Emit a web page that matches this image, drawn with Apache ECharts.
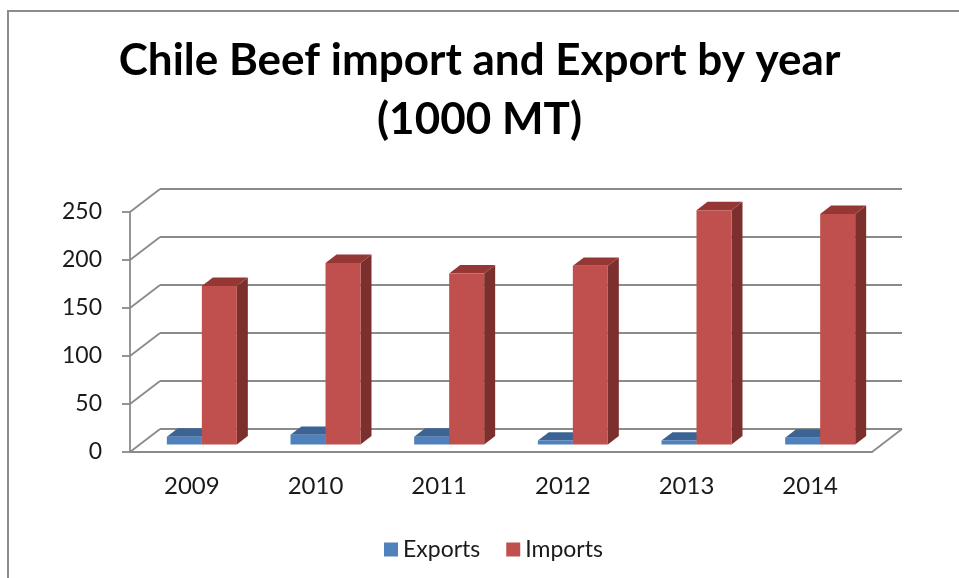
<!DOCTYPE html>
<html>
<head>
<meta charset="utf-8">
<script src="https://cdn.jsdelivr.net/npm/echarts@6/dist/echarts.min.js"></script>
<style>
  html, body { margin: 0; padding: 0; background: #fff; }
  #chart { width: 959px; height: 578px; }
</style>
</head>
<body>
<div id="chart"></div>
<script>
// Chile beef trade, thousand metric tons
const years = ['2009', '2010', '2011', '2012', '2013', '2014'];
const exportsData = [8, 10, 8, 4, 4, 7];
const importsData = [165, 189, 178, 186, 244, 240];
const valueTicks = [0, 50, 100, 150, 200, 250];

// Pseudo-3D projection: back wall offset and bar placement in depth
const WALL_DX = 30, WALL_DY = 23;
const BAR_DX0 = 10, BAR_DY0 = 7.6;   // front face of bars, inside the floor
const BAR_DX = 11, BAR_DY = 8.4;     // bar depth
const BAR_FRAC = 0.283;              // single bar width as share of a category band

const GRID_COLOR = '#8a8a8a';
const FONT = 'Lato, "Open Sans", sans-serif';

function line(x1, y1, x2, y2) {
  return {
    type: 'line',
    shape: { x1: x1, y1: y1, x2: x2, y2: y2 },
    style: { stroke: GRID_COLOR, lineWidth: 1.8 },
    silent: true
  };
}

function renderWalls(params, api) {
  const cs = params.coordSys;
  const left = cs.x, right = cs.x + cs.width;
  const children = [];
  valueTicks.forEach(function (v) {
    const y = api.coord([0, v])[1];
    children.push(line(left, y, left + WALL_DX, y - WALL_DY));
    children.push(line(left + WALL_DX, y - WALL_DY, right + WALL_DX, y - WALL_DY));
  });
  const y0 = api.coord([0, 0])[1];
  children.push(line(right, y0, right + WALL_DX, y0 - WALL_DY));
  return { type: 'group', children: children };
}

function makeBarRenderer(side, colors) {
  return function (params, api) {
    const idx = api.value(0);
    const top = api.coord([idx, api.value(1)]);
    const base = api.coord([idx, 0]);
    const bw = api.size([1, 0])[0] * BAR_FRAC;
    const cx = top[0] + BAR_DX0;
    const x0 = side < 0 ? cx - bw : cx;
    const x1 = side < 0 ? cx : cx + bw;
    const yT = top[1] - BAR_DY0;
    const yB = base[1] - BAR_DY0;
    return {
      type: 'group',
      children: [
        {
          type: 'polygon',
          shape: { points: [[x1, yT], [x1 + BAR_DX, yT - BAR_DY], [x1 + BAR_DX, yB - BAR_DY], [x1, yB]] },
          style: { fill: colors.side }
        },
        {
          type: 'polygon',
          shape: { points: [[x0, yT], [x0 + BAR_DX, yT - BAR_DY], [x1 + BAR_DX, yT - BAR_DY], [x1, yT]] },
          style: { fill: colors.top }
        },
        {
          type: 'rect',
          shape: { x: x0, y: yT, width: x1 - x0, height: yB - yT },
          style: { fill: colors.front }
        }
      ]
    };
  };
}

const blue = { front: '#4f81bd', top: '#3b6494', side: '#345880' };
const red = { front: '#c0504d', top: '#953735', side: '#7b302e' };

const chart = echarts.init(document.getElementById('chart'), null, { renderer: 'canvas' });

chart.setOption({
  animation: false,
  backgroundColor: '#ffffff',
  title: {
    text: 'Chile Beef import and Export by year\n(1000 MT)',
    left: 'center',
    top: 31,
    padding: 0,
    textStyle: {
      fontFamily: FONT,
      fontWeight: 'bold',
      fontSize: 44,
      lineHeight: 59,
      color: '#000'
    }
  },
  legend: {
    data: ['Exports', 'Imports'],
    left: 379,
    top: 533,
    icon: 'rect',
    itemWidth: 14,
    itemHeight: 14,
    itemGap: 26,
    textStyle: { fontFamily: FONT, fontSize: 23, color: '#1a1a1a' }
  },
  graphic: [{
    type: 'rect',
    silent: true,
    shape: { x: 8, y: 11, width: 1000, height: 700 },
    style: { fill: 'none', stroke: '#8c8c8c', lineWidth: 2 }
  }],
  grid: { left: 130, top: 212, width: 742, height: 240 },
  xAxis: {
    type: 'category',
    data: years,
    axisLine: { show: true, lineStyle: { color: GRID_COLOR, width: 1.8 } },
    axisTick: { show: false },
    splitLine: { show: false },
    axisLabel: { fontFamily: FONT, fontSize: 24, color: '#1a1a1a', margin: 22 }
  },
  yAxis: {
    type: 'value',
    min: 0,
    max: 250,
    interval: 50,
    axisLine: { show: true, lineStyle: { color: GRID_COLOR, width: 1.8 } },
    axisTick: { show: true, length: 8, lineStyle: { color: GRID_COLOR, width: 1.8 } },
    splitLine: { show: false },
    axisLabel: { fontFamily: FONT, fontSize: 23, color: '#1a1a1a', margin: 28 }
  },
  series: [
    {
      name: 'walls',
      type: 'custom',
      renderItem: renderWalls,
      data: [[0, 0]],
      z: 1,
      silent: true
    },
    {
      name: 'Exports',
      type: 'custom',
      renderItem: makeBarRenderer(-1, blue),
      itemStyle: { color: blue.front },
      data: exportsData.map(function (v, i) { return [i, v]; }),
      z: 2
    },
    {
      name: 'Imports',
      type: 'custom',
      renderItem: makeBarRenderer(1, red),
      itemStyle: { color: red.front },
      data: importsData.map(function (v, i) { return [i, v]; }),
      z: 3
    }
  ]
});
</script>
</body>
</html>
